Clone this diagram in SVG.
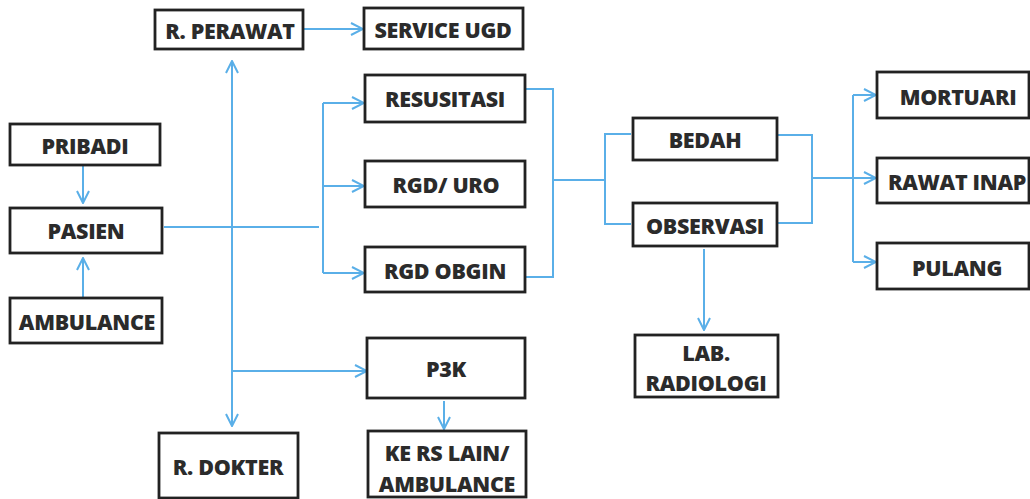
<svg xmlns="http://www.w3.org/2000/svg" width="1030" height="499" viewBox="0 0 1030 499">
  <style>
    .box rect { fill: #ffffff; stroke: #222222; stroke-width: 2.8; }
    .box text { font-family: "Open Sans", "Liberation Sans", sans-serif; font-weight: 800; font-size: 21.5px; fill: #2b2b2b; text-anchor: middle; dominant-baseline: central; letter-spacing: -0.3px; }
    .link { fill: none; stroke: #5aafe8; stroke-width: 2; }
    .arrow { marker-end: url(#head); }
  </style>
  <defs>
    <marker id="head" viewBox="0 0 14 14" refX="13" refY="7" markerWidth="14" markerHeight="14" markerUnits="userSpaceOnUse" orient="auto">
      <path d="M1,1 L13,7 L1,13" fill="none" stroke="#5aafe8" stroke-width="2"/>
    </marker>
  </defs>
  <rect width="1030" height="499" fill="#ffffff"/>

  <!-- connectors -->
  <g id="connectors">
    <!-- arrivals into PASIEN -->
    <path class="link arrow" d="M83,166 V203"/>
    <path class="link arrow" d="M83,297 V258"/>
    <!-- PASIEN out to triage branch -->
    <path class="link" d="M164,227 H319"/>
    <!-- central spine: R. PERAWAT up, R. DOKTER down -->
    <path class="link arrow" d="M232,227 V61"/>
    <path class="link arrow" d="M232,227 V426"/>
    <path class="link arrow" d="M232,371 H367"/>
    <path class="link arrow" d="M304,29 H363"/>
    <!-- triage branch -->
    <path class="link" d="M323,103 V273"/>
    <path class="link arrow" d="M323,103 H364"/>
    <path class="link arrow" d="M323,186 H364"/>
    <path class="link arrow" d="M323,273 H364"/>
    <!-- merge from treatment rooms -->
    <path class="link" d="M526,89 H553 V277 H526"/>
    <path class="link" d="M553,180 H605"/>
    <path class="link" d="M631,134 H605 V224 H631"/>
    <!-- merge from BEDAH / OBSERVASI -->
    <path class="link" d="M778,135 H812 V223 H778"/>
    <path class="link" d="M812,178 H853"/>
    <path class="link" d="M853,95 V262"/>
    <path class="link arrow" d="M853,95 H876"/>
    <path class="link arrow" d="M853,178 H876"/>
    <path class="link arrow" d="M853,262 H876"/>
    <!-- OBSERVASI to LAB. RADIOLOGI -->
    <path class="link arrow" d="M704,249 V330"/>
    <!-- P3K to referral -->
    <path class="link arrow" d="M444,401 V429"/>
  </g>

  <g id="pribadi" class="box"><rect x="10" y="124" width="150" height="41"/><text x="85" y="145">PRIBADI</text></g>
  <g id="pasien" class="box"><rect x="10" y="208" width="152" height="45"/><text x="86" y="230">PASIEN</text></g>
  <g id="ambulance" class="box"><rect x="10" y="298" width="152" height="45"/><text x="87" y="321">AMBULANCE</text></g>
  <g id="r-perawat" class="box"><rect x="155" y="10" width="148" height="39"/><text x="230" y="30">R. PERAWAT</text></g>
  <g id="service-ugd" class="box"><rect x="364" y="8" width="159" height="41"/><text x="443" y="29">SERVICE UGD</text></g>
  <g id="resusitasi" class="box"><rect x="365" y="75" width="160" height="47"/><text x="445" y="98">RESUSITASI</text></g>
  <g id="rgd-uro" class="box"><rect x="365" y="161" width="160" height="46"/><text x="446" y="184">RGD/ URO</text></g>
  <g id="rgd-obgin" class="box"><rect x="365" y="247" width="160" height="45"/><text x="445" y="270">RGD OBGIN</text></g>
  <g id="bedah" class="box"><rect x="633" y="118" width="144" height="42"/><text x="705" y="139">BEDAH</text></g>
  <g id="observasi" class="box"><rect x="633" y="203" width="144" height="43"/><text x="705" y="225">OBSERVASI</text></g>
  <g id="mortuari" class="box"><rect x="877" y="72" width="152" height="46"/><text x="958" y="96">MORTUARI</text></g>
  <g id="rawat-inap" class="box"><rect x="877" y="158" width="152" height="45"/><text x="957" y="181">RAWAT INAP</text></g>
  <g id="pulang" class="box"><rect x="877" y="243" width="152" height="46"/><text x="957" y="267">PULANG</text></g>
  <g id="lab-radiologi" class="box"><rect x="635" y="335" width="143" height="62"/><text x="706" y="352">LAB.</text><text x="706" y="382">RADIOLOGI</text></g>
  <g id="p3k" class="box"><rect x="367" y="338" width="158" height="60"/><text x="446" y="368">P3K</text></g>
  <g id="ke-rs-lain" class="box"><rect x="368" y="431" width="158" height="66"/><text x="447" y="452">KE RS LAIN/</text><text x="447" y="483">AMBULANCE</text></g>
  <g id="r-dokter" class="box"><rect x="159" y="433" width="139" height="65"/><text x="228" y="466">R. DOKTER</text></g>
</svg>
